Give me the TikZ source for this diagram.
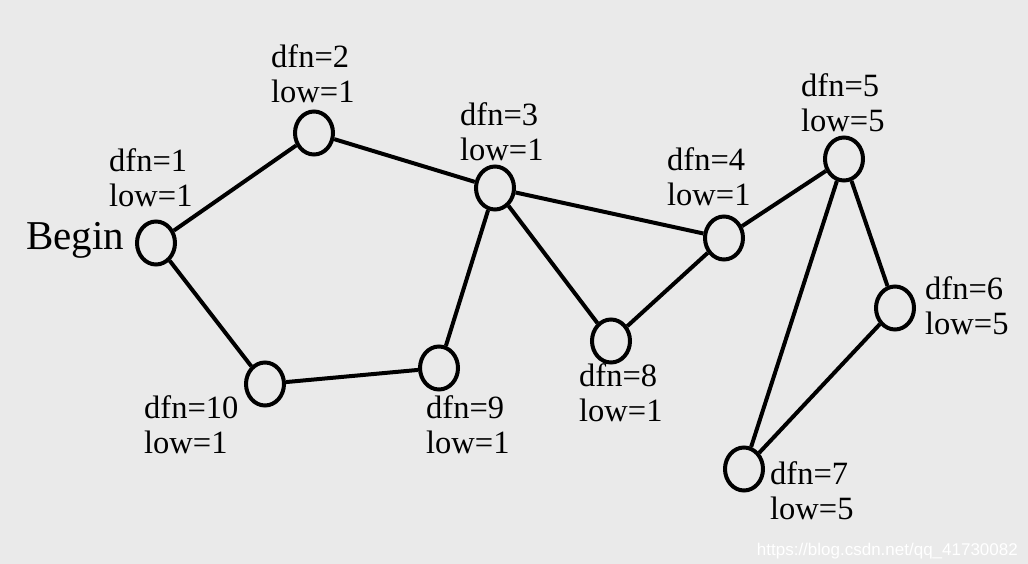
\documentclass[tikz,border=0pt]{standalone}
\usepackage{fontspec}
\setmainfont{Liberation Serif}
\newfontfamily\wmfont{Liberation Sans}
\usetikzlibrary{shapes.geometric}
\definecolor{bg}{HTML}{EAEAEA}
\begin{document}
\begin{tikzpicture}[x=1pt,y=-1pt,
  vtx/.style={draw=black,line width=4pt,ellipse,minimum width=38pt,minimum height=43pt,inner sep=0pt},
  lbl/.style={anchor=north west,align=left,inner sep=0pt,font=\fontsize{32.5}{35}\selectfont},
  edge/.style={line width=4pt}]
\fill[bg] (0,0) rectangle (1028,564);
\useasboundingbox (0,0) rectangle (1028,564);
% vertices
\node[vtx] (v1) at (156,243) {};
\node[vtx] (v2) at (314,133) {};
\node[vtx] (v3) at (495,188) {};
\node[vtx] (v4) at (724,238) {};
\node[vtx] (v5) at (844,159) {};
\node[vtx] (v6) at (895,308) {};
\node[vtx] (v7) at (744,469) {};
\node[vtx] (v8) at (611,341) {};
\node[vtx] (v9) at (439,368) {};
\node[vtx] (v10) at (265,384) {};
% edges
\draw[edge] (v1) -- (v2);
\draw[edge] (v2) -- (v3);
\draw[edge] (v3) -- (v4);
\draw[edge] (v3) -- (v8);
\draw[edge] (v8) -- (v4);
\draw[edge] (v3) -- (v9);
\draw[edge] (v9) -- (v10);
\draw[edge] (v10) -- (v1);
\draw[edge] (v4) -- (v5);
\draw[edge] (v5) -- (v6);
\draw[edge] (v6) -- (v7);
\draw[edge] (v7) -- (v5);
% labels
\node[anchor=base west,inner sep=0pt,font=\fontsize{41}{44}\selectfont] (begin) at (26,250) {Begin};
\node[lbl] (l1) at (109,148) {dfn=1\\low=1};
\node[lbl] (l2) at (271,44) {dfn=2\\low=1};
\node[lbl] (l3) at (460,102) {dfn=3\\low=1};
\node[lbl] (l4) at (667,147) {dfn=4\\low=1};
\node[lbl] (l5) at (801,73) {dfn=5\\low=5};
\node[lbl] (l6) at (925,276) {dfn=6\\low=5};
\node[lbl] (l7) at (770,461) {dfn=7\\low=5};
\node[lbl] (l8) at (579,363) {dfn=8\\low=1};
\node[lbl] (l9) at (426,395) {dfn=9\\low=1};
\node[lbl] (l10) at (144,395) {dfn=10\\low=1};
% watermark
\node[anchor=base east,inner sep=0pt,text=white,font=\wmfont\fontsize{17}{20}\selectfont] (wm) at (1018,555) {https://blog.csdn.net/qq\_41730082};
\end{tikzpicture}
\end{document}
